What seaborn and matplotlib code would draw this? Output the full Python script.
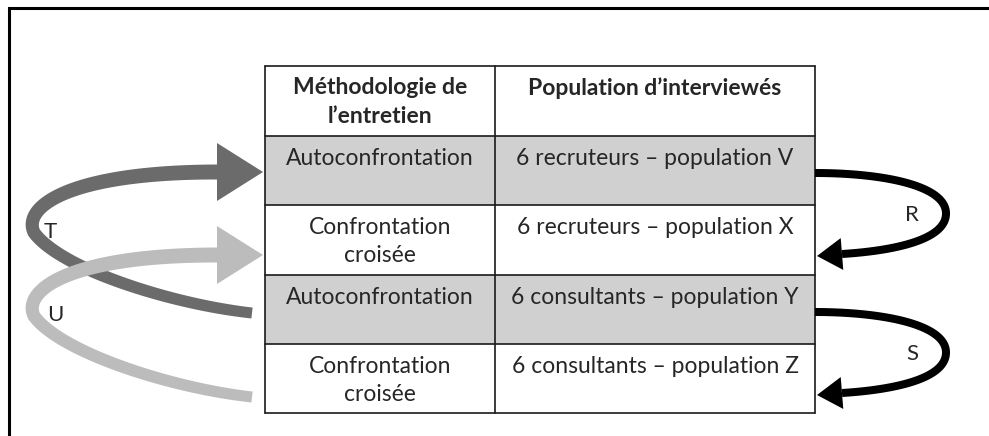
import numpy as np
import matplotlib
matplotlib.use("Agg")
import matplotlib.pyplot as plt
from matplotlib.patches import Rectangle, Polygon
import seaborn as sns

# ----------------------------
# Contenu du tableau
# ----------------------------
entetes = ["Méthodologie de\nl’entretien", "Population d’interviewés"]
methodes = ["Autoconfrontation", "Confrontation\ncroisée",
            "Autoconfrontation", "Confrontation\ncroisée"]
populations = ["6 recruteurs – population V", "6 recruteurs – population X",
               "6 consultants – population Y", "6 consultants – population Z"]
lignes_grises = [True, False, True, False]

# Flèches à droite (ligne 2i -> ligne 2i+1) et à gauche (ligne i+2 -> ligne i)
fleches_droite = ["R", "S"]
fleches_gauche = ["T", "U"]
couleurs_gauche = ["#6b6b6b", "#bcbcbc"]

# ----------------------------
# Mise en page (pixels)
# ----------------------------
col_x = [265, 495, 815]
row_y = [66, 136, 205, 275, 344, 413]
gris_cellule = "#d0d0d0"
police = ["Lato", "DejaVu Sans"]
taille = 16.5

sns.set_style("white")
plt.rcParams["font.family"] = police

fig = plt.figure(figsize=(9.89, 4.36), dpi=100)
ax = fig.add_axes([0, 0, 1, 1])
ax.set_xlim(0, 989)
ax.set_ylim(436, 0)
ax.axis("off")

# cadre extérieur (seulement haut et gauche visibles)
ax.plot([9, 9, 989], [436, 8, 8], color="black", lw=2.2, solid_joinstyle="miter")


def bezier(p0, p1, p2, p3, n=80):
    t = np.linspace(0, 1, n)[:, None]
    p0, p1, p2, p3 = map(np.asarray, (p0, p1, p2, p3))
    return (1 - t) ** 3 * p0 + 3 * (1 - t) ** 2 * t * p1 + 3 * (1 - t) * t ** 2 * p2 + t ** 3 * p3


def ruban(segments, w0, w1, color, z):
    pts = [bezier(*s) for s in segments]
    pts = np.vstack([pts[0]] + [p[1:] for p in pts[1:]])
    d = np.gradient(pts, axis=0)
    d /= np.linalg.norm(d, axis=1)[:, None]
    nrm = np.stack([-d[:, 1], d[:, 0]], axis=1)
    w = np.linspace(w0, w1, len(pts))[:, None] / 2
    poly = np.vstack([pts + nrm * w, (pts - nrm * w)[::-1]])
    ax.add_patch(Polygon(poly, closed=True, fc=color, ec="none", zorder=z))


def pointe(base, tip, demi, color, z):
    base, tip = np.asarray(base, float), np.asarray(tip, float)
    d = tip - base
    d /= np.linalg.norm(d)
    nrm = np.array([-d[1], d[0]])
    ax.add_patch(Polygon([base + nrm * demi, tip, base - nrm * demi],
                         closed=True, fc=color, ec="none", zorder=z))


# ----------------------------
# Tableau
# ----------------------------
for i, gris in enumerate(lignes_grises):
    if gris:
        ax.add_patch(Rectangle((col_x[0], row_y[i + 1]), col_x[2] - col_x[0],
                               row_y[i + 2] - row_y[i + 1], fc=gris_cellule, ec="none", zorder=1))
for y in row_y:
    ax.plot([col_x[0], col_x[2]], [y, y], color="#1a1a1a", lw=1.2, zorder=2)
for x in col_x:
    ax.plot([x, x], [row_y[0], row_y[-1]], color="#1a1a1a", lw=1.2, zorder=2)


def texte(col, top, txt, bold=False):
    xc = (col_x[col] + col_x[col + 1]) / 2
    for k, ligne in enumerate(txt.split("\n")):
        ax.text(xc, top + 22 + 28 * k, ligne, ha="center", va="center",
                fontsize=taille, fontweight="bold" if bold else "normal", zorder=3)


texte(0, row_y[0], entetes[0], bold=True)
texte(1, row_y[0], entetes[1], bold=True)
for i in range(len(methodes)):
    texte(0, row_y[i + 1], methodes[i])
    texte(1, row_y[i + 1], populations[i])

# ----------------------------
# Flèches noires à droite (R, S)
# ----------------------------
xr = col_x[2]
for i, lab in enumerate(fleches_droite):
    y0 = row_y[2 * i + 1] + 37
    y1 = row_y[2 * i + 2] + 51
    ym = (y0 + y1) / 2 - 1
    h = y1 - y0
    segs = [((xr, y0), (xr + 65, y0), (xr + 131, y0 + 0.14 * h), (xr + 131, ym)),
            ((xr + 131, ym), (xr + 131, ym + 0.33 * h), (xr + 75, y1 - 5), (xr + 27, y1 - 2))]
    ruban(segs, 8, 8, "black", 4)
    pointe((xr + 27, y1 - 2), (xr + 2, y1), 16, "black", 4)
    ax.text(xr + 97, ym + 1, lab, ha="center", va="center", fontsize=taille - 0.5, zorder=5)

# ----------------------------
# Flèches grises à gauche (T, U)
# ----------------------------
xl = col_x[0]
for i, lab in enumerate(fleches_gauche):
    ytail = row_y[i + 3] + 38 + 15 * i
    yhead = row_y[i + 1] + 36 + 14 * i
    yl = (ytail + yhead) / 2 - 14
    segs = [((xl - 13, ytail), (xl - 95, ytail - 9), (xl - 205, yl + 40), (xl - 231, yl + 4)),
            ((xl - 231, yl + 4), (xl - 243, yl - 22), (xl - 195, yhead), (xl - 48, yhead))]
    ruban(segs, 11, 15, couleurs_gauche[i], 6 + i)
    pointe((xl - 48, yhead), (xl - 2, yhead), 29, couleurs_gauche[i], 6 + i)
    ax.text(50 + 5 * i, yl + 3, lab, ha="center", va="center", fontsize=taille - 0.5, zorder=9)

fig.savefig("out.png", dpi=100)
